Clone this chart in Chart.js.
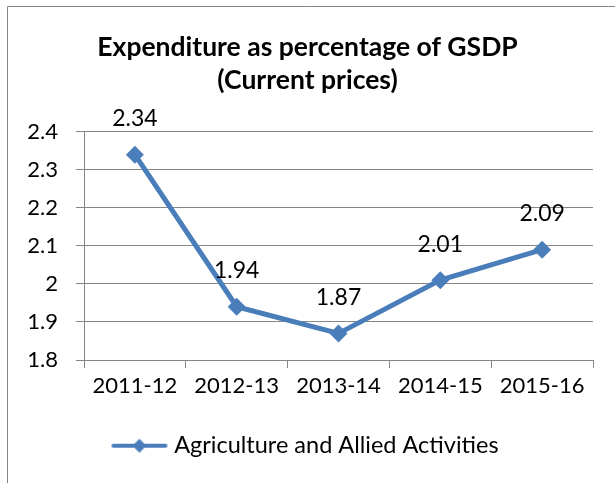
<!DOCTYPE html>
<html>
<head>
<meta charset="utf-8">
<script src="https://cdn.jsdelivr.net/npm/chart.js@4"></script>
<style>
  html, body { margin: 0; padding: 0; background: #fff; }
  #wrap { width: 615px; height: 483px; }
</style>
</head>
<body>
<div id="wrap"><canvas id="chart" width="615" height="483"></canvas></div>
<script>
// data
const years = ['2011-12', '2012-13', '2013-14', '2014-15', '2015-16'];
const agriculture = [2.34, 1.94, 1.87, 2.01, 2.09];
const yTicks = [1.8, 1.9, 2.0, 2.1, 2.2, 2.3, 2.4];
const seriesName = 'Agriculture and Allied Activities';
const titleLines = ['Expenditure as percentage of GSDP', '(Current prices)'];

const blue = '#4A7EBB';
const grey = '#868686';
const fontFamily = 'Lato, "Open Sans", sans-serif';

// legend marker: line with a diamond in the middle
const marker = document.createElement('canvas');
marker.width = 58;
marker.height = 16;
const mctx = marker.getContext('2d');
mctx.strokeStyle = blue;
mctx.lineWidth = 4;
mctx.lineCap = 'round';
mctx.beginPath();
mctx.moveTo(3, 8);
mctx.lineTo(55, 8);
mctx.stroke();
mctx.fillStyle = blue;
mctx.beginPath();
mctx.moveTo(29, 1);
mctx.lineTo(36, 8);
mctx.lineTo(29, 15);
mctx.lineTo(22, 8);
mctx.closePath();
mctx.fill();

// outer frame like the pasted chart object
const framePlugin = {
  id: 'frame',
  beforeDraw(chart) {
    const ctx = chart.ctx;
    ctx.save();
    ctx.fillStyle = '#fff';
    ctx.fillRect(0, 0, chart.width, chart.height);
    ctx.strokeStyle = grey;
    ctx.lineWidth = 1;
    ctx.beginPath();
    ctx.moveTo(7.5, chart.height);
    ctx.lineTo(7.5, 6.5);
    ctx.lineTo(chart.width, 6.5);
    ctx.stroke();
    ctx.restore();
  }
};

// value labels above each point
const valueLabels = {
  id: 'valueLabels',
  afterDatasetsDraw(chart) {
    const ctx = chart.ctx;
    const meta = chart.getDatasetMeta(0);
    ctx.save();
    ctx.font = '23px ' + fontFamily;
    ctx.fillStyle = '#000';
    ctx.textAlign = 'center';
    ctx.textBaseline = 'middle';
    meta.data.forEach((pt, i) => {
      ctx.fillText(String(agriculture[i]), pt.x, pt.y - 36);
    });
    ctx.restore();
  }
};

new Chart(document.getElementById('chart'), {
  type: 'line',
  data: {
    labels: years,
    datasets: [{
      label: seriesName,
      data: agriculture,
      borderColor: blue,
      backgroundColor: blue,
      borderWidth: 5,
      pointStyle: 'rectRot',
      pointRadius: 9,
      pointHoverRadius: 9,
      pointBackgroundColor: blue,
      pointBorderColor: blue,
      pointBorderWidth: 0,
      tension: 0
    }]
  },
  options: {
    responsive: false,
    animation: false,
    layout: { padding: { left: 15, right: 15, top: 0, bottom: 15.5 } },
    plugins: {
      title: {
        display: true,
        text: titleLines,
        color: '#000',
        font: { family: fontFamily, size: 26.5, weight: 'bold', lineHeight: 1.28 },
        padding: { top: 30, bottom: 34 }
      },
      legend: {
        position: 'bottom',
        labels: {
          color: '#000',
          font: { family: fontFamily, size: 23.5 },
          usePointStyle: true,
          pointStyleWidth: 46,
          padding: 10,
          generateLabels: (chart) => [{
            text: seriesName,
            pointStyle: marker,
            fillStyle: blue,
            strokeStyle: blue,
            lineWidth: 0,
            datasetIndex: 0
          }]
        }
      },
      tooltip: { enabled: false }
    },
    scales: {
      x: {
        offset: true,
        grid: { display: true, offset: true, drawOnChartArea: false, color: grey, tickLength: 8 },
        border: { color: grey },
        ticks: { color: '#000', font: { family: fontFamily, size: 22 }, padding: 5, maxRotation: 0 },
        afterFit: (s) => { s.height = 64; }
      },
      y: {
        min: yTicks[0],
        max: yTicks[yTicks.length - 1],
        afterBuildTicks: (s) => { s.ticks = yTicks.map(v => ({ value: v })); },
        grid: { color: grey, tickLength: 8 },
        border: { color: grey },
        ticks: {
          color: '#000',
          font: { family: fontFamily, size: 22 },
          padding: 18,
          callback: (v) => String(Number(v.toFixed(1)))
        },
        afterFit: (s) => { s.width = 69; }
      },
      yRight: {
        position: 'right',
        display: true,
        grid: { display: false },
        border: { display: false },
        ticks: { display: false },
        afterFit: (s) => { s.width = 7; }
      }
    }
  },
  plugins: [framePlugin, valueLabels]
});
</script>
</body>
</html>
